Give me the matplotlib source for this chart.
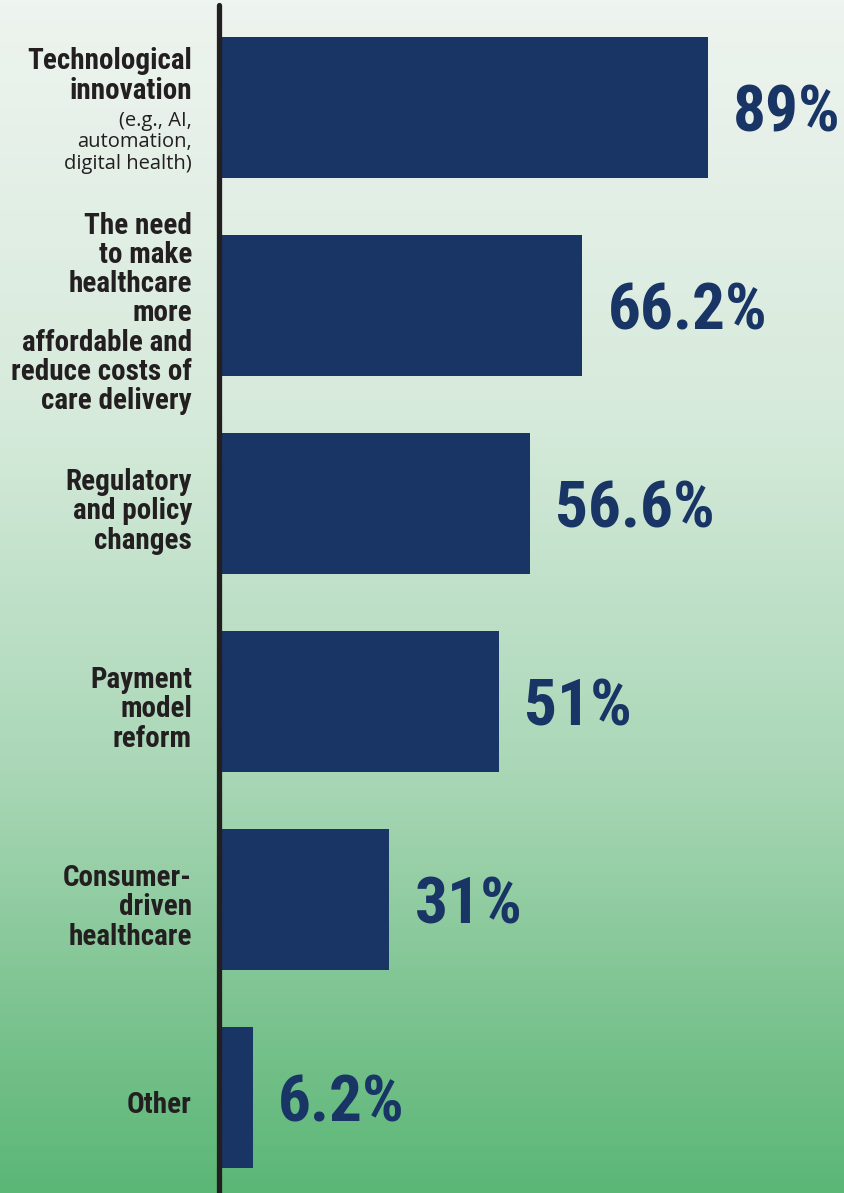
import numpy as np
import matplotlib
matplotlib.use("Agg")
import matplotlib.pyplot as plt
from matplotlib import font_manager
from matplotlib.colors import LinearSegmentedColormap

# data
labels_bold = ["Technological\ninnovation",
               "The need\nto make\nhealthcare\nmore\naffordable and\nreduce costs of\ncare delivery",
               "Regulatory\nand policy\nchanges",
               "Payment\nmodel\nreform",
               "Consumer-\ndriven\nhealthcare",
               "Other"]
labels_note = ["(e.g., AI,\nautomation,\ndigital health)", "", "", "", "", ""]
values = [89, 66.2, 56.6, 51, 31, 6.2]
value_text = ["89%", "66.2%", "56.6%", "51%", "31%", "6.2%"]

# pick a narrow font if there is one
names = {f.name for f in font_manager.fontManager.ttflist}
narrow = None
for n in ["Roboto Condensed", "Liberation Sans Narrow", "Open Sans Condensed", "Noto Sans Condensed"]:
    if n in names:
        narrow = n
        break

navy = "#183566"
ink = "#231f20"

fig = plt.figure(figsize=(8.45, 11.93), dpi=100)

# background gradient
bg = fig.add_axes([0, 0, 1, 1])
grad = LinearSegmentedColormap.from_list("bg", [
    (0.0, "#eef4ef"), (0.35, "#d6eadb"), (0.65, "#a9d7b6"),
    (0.85, "#7cc390"), (1.0, "#5bb776")])
bg.imshow(np.linspace(0, 1, 256).reshape(-1, 1), aspect="auto", cmap=grad,
          extent=[0, 1, 0, 1], origin="upper")
bg.axis("off")

ax = fig.add_axes([219 / 845, 0, 626 / 845, 1 - 5 / 1193])
ax.patch.set_alpha(0)
y = np.arange(len(values))
ax.barh(y, values, height=0.712, color=navy, align="center")
ax.set_xlim(0, 626 / 5.49)
ax.set_ylim(5.482, -0.518)

for s in ["top", "right", "bottom"]:
    ax.spines[s].set_visible(False)
ax.spines["left"].set_linewidth(3.8)
ax.spines["left"].set_color(ink)
ax.spines["left"].set_capstyle("round")
ax.set_xticks([])
ax.set_yticks([])

if narrow:
    lab_font = [narrow, "Roboto", "DejaVu Sans"]
    lab_size = 21
    val_size = 47
else:
    lab_font = ["Roboto", "DejaVu Sans"]
    lab_size = 16
    val_size = 38

tx = -27 / 626
tr = ax.get_yaxis_transform()
for i, (lb, note) in enumerate(zip(labels_bold, labels_note)):
    if note:
        ax.text(tx, i - 0.015, lb, transform=tr, ha="right", va="bottom",
                family=lab_font, weight="bold", fontsize=lab_size,
                color=ink, linespacing=1.05)
        ax.text(tx, i + 0.015, note, transform=tr, ha="right", va="top",
                family=["Open Sans", "DejaVu Sans"], fontsize=14.5,
                color=ink, linespacing=1.1)
    else:
        ax.text(tx, i + 0.04, lb, transform=tr, ha="right", va="center",
                family=lab_font, weight="bold", fontsize=lab_size,
                color=ink, linespacing=1.05)

for i, (v, t) in enumerate(zip(values, value_text)):
    ax.text(v + 4.6, i, t, ha="left", va="center_baseline",
            family=lab_font, weight="bold", fontsize=val_size, color=navy)

fig.savefig("out.png", dpi=100)
